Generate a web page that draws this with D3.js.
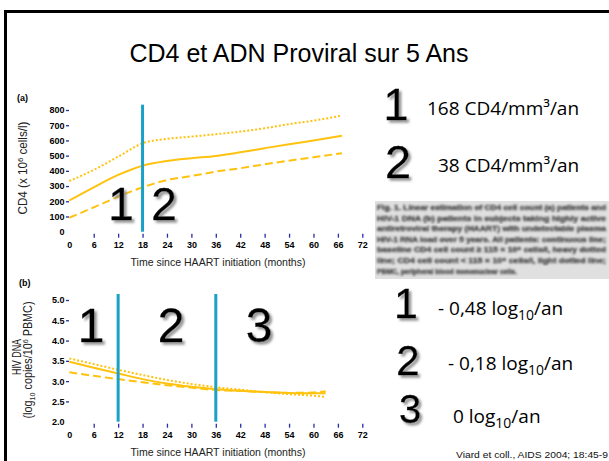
<!DOCTYPE html>
<html>
<head>
<meta charset="utf-8">
<script src="https://cdn.jsdelivr.net/npm/d3@7"></script>
<style>
  body { margin: 0; background: #fff; }
  svg { display: block; }
</style>
</head>
<body>
<div id="vis"></div>
<script>
// page size
const WIDTH = 609;
const HEIGHT = 461;

// data: panel (a) CD4 count
const monthsA = [0, 6, 12, 18, 24, 30, 36, 42, 48, 54, 60, 67];
const cd4All  = [205, 292, 373, 434, 465, 483, 498, 522, 549, 575, 599, 630];
const cd4High = [333, 406, 493, 581, 610, 625, 641, 658, 680, 707, 730, 763];
const cd4Low  = [92, 160, 230, 292, 340, 366, 395, 417, 443, 467, 489, 516];

// data: panel (b) HIV DNA
const monthsB = [0, 6, 12, 18, 24, 30, 36, 42, 48, 54, 60, 63];
const dnaAll  = [3.48, 3.33, 3.19, 3.05, 2.94, 2.86, 2.80, 2.76, 2.73, 2.71, 2.70, 2.70];
const dnaHigh = [3.56, 3.42, 3.28, 3.15, 3.03, 2.93, 2.85, 2.79, 2.73, 2.68, 2.64, 2.61];
const dnaLow  = [3.22, 3.13, 3.05, 2.97, 2.90, 2.84, 2.78, 2.76, 2.73, 2.71, 2.72, 2.75];

// ticks and phase cuts
const xTicks = d3.range(0, 73, 6);
const yTicksA = d3.range(0, 801, 100);
const yTicksB = [2.0, 2.5, 3.0, 3.5, 4.0, 4.5, 5.0];
const cutsA = [18];
const cutsB = [12, 36];
const phasesA = ["1", "2"];
const phasesB = ["1", "2", "3"];

const slopes = [
  {n: "1", pre: "168 CD4/mm³/an"},
  {n: "2", pre: "38 CD4/mm³/an"}
];
const slopesB = [
  {n: "1", pre: "- 0,48 log", post: "/an"},
  {n: "2", pre: "- 0,18 log", post: "/an"},
  {n: "3", pre: "0 log", post: "/an"}
];

const caption = [
  "Fig. 1. Linear estimation of CD4 cell count (a) patients and",
  "HIV-1 DNA (b) patients in subjects taking highly active",
  "antiretroviral therapy (HAART) with undetectable plasma",
  "HIV-1 RNA load over 5 years. All patients: continuous line;",
  "baseline CD4 cell count \u2265 115 \u00d7 10\u2076 cells/l, heavy dotted",
  "line; CD4 cell count < 115 \u00d7 10\u2076 cells/l, light dotted line;",
  "PBMC, peripheral blood mononuclear cells."
];

const GOLD = "#ffc20e";
const CUT = "#1aa1c8";
const TICK = "#2b2ba8";
const FONT = "'Liberation Sans', Arial, sans-serif";

const svg = d3.select("#vis")
  .append("svg")
    .attr("width", WIDTH)
    .attr("height", HEIGHT)
    .style("font-family", FONT);

// slide frame
svg.append("path")
  .attr("d", "M5.5," + HEIGHT + " V11.5 H" + (WIDTH + 5))
  .attr("fill", "none")
  .attr("stroke", "#000")
  .attr("stroke-width", 3);

svg.append("text")
  .attr("x", 299)
  .attr("y", 62)
  .attr("text-anchor", "middle")
  .attr("font-size", 25)
  .text("CD4 et ADN Proviral sur 5 Ans");

const defs = svg.append("defs");
defs.append("filter").attr("id", "shadow")
    .attr("x", "-20%").attr("y", "-20%").attr("width", "150%").attr("height", "150%")
  .append("feDropShadow")
    .attr("dx", 2.5).attr("dy", 2.5)
    .attr("stdDeviation", 0.9)
    .attr("flood-color", "#888")
    .attr("flood-opacity", 0.9);
defs.append("filter").attr("id", "blurtext")
  .append("feGaussianBlur").attr("stdDeviation", 0.85);

// shared x scale
const x = d3.scaleLinear().domain([0, 72]).range([69.3, 362.3]);

function bigDigit(g, label, cx, baseline, size) {
  g.append("text")
    .attr("x", cx).attr("y", baseline)
    .attr("text-anchor", "middle")
    .attr("font-size", size)
    .attr("fill", "#000")
    .attr("stroke", "#000")
    .attr("stroke-width", 0.3)
    .attr("filter", "url(#shadow)")
    .text(label);
}

function drawPanel(opt) {
  const g = svg.append("g");
  const y = opt.y;
  const y0 = y.range()[0];

  // x axis (ticks only)
  const ax = g.append("g")
    .attr("transform", "translate(0," + (y0 + 2) + ")")
    .call(d3.axisBottom(x).tickValues(xTicks).tickSize(4).tickPadding(3.5));
  ax.select(".domain").remove();
  ax.selectAll("line").attr("stroke", TICK).attr("stroke-width", 1.3);
  ax.selectAll(".tick").filter((d) => d === 0).select("line").remove();
  ax.selectAll("text")
    .attr("font-family", FONT).attr("font-size", 9)
    .attr("font-weight", "bold").attr("fill", "#000");

  // y axis (ticks only)
  const ay = g.append("g")
    .attr("transform", "translate(69,0)")
    .call(d3.axisLeft(y).tickValues(opt.yTicks).tickFormat(opt.fmt).tickSize(3).tickPadding(1.5));
  ay.select(".domain").remove();
  ay.selectAll("line").attr("stroke", TICK).attr("stroke-width", 1.3);
  ay.selectAll(".tick").filter((d, i) => i === 0).select("line").remove();
  ay.selectAll("text")
    .attr("font-family", FONT).attr("font-size", 9)
    .attr("font-weight", "bold").attr("fill", "#000");

  // curves
  const line = d3.line()
    .x((d) => x(d[0]))
    .y((d) => y(d[1]))
    .curve(d3.curveMonotoneX);
  opt.series.forEach((s) => {
    g.append("path")
      .datum(opt.months.map((m, i) => [m, s.values[i]]))
      .attr("d", line)
      .attr("fill", "none")
      .attr("stroke", GOLD)
      .attr("stroke-width", 2)
      .attr("stroke-dasharray", s.dash);
  });

  // phase cuts
  g.selectAll(".cut")
    .data(opt.cuts)
    .enter()
    .append("line")
      .attr("x1", (d) => x(d)).attr("x2", (d) => x(d))
      .attr("y1", opt.cutTop).attr("y2", y0)
      .attr("stroke", CUT)
      .attr("stroke-width", 3);

  // phase numbers
  opt.phases.forEach((p, i) => bigDigit(g, p, opt.phaseX[i], opt.phaseY, opt.phaseSize));

  // panel tag
  g.append("text")
    .attr("x", opt.tagX).attr("y", opt.tagY)
    .attr("font-size", 9).attr("font-weight", "bold")
    .text(opt.tag);

  // x title
  g.append("text")
    .attr("x", 218).attr("y", y0 + 34)
    .attr("text-anchor", "middle")
    .attr("font-size", 11)
    .attr("fill", "#222")
    .attr("textLength", 175)
    .attr("lengthAdjust", "spacingAndGlyphs")
    .text("Time since HAART initiation (months)");

  return g;
}

// panel (a)
const yA = d3.scaleLinear().domain([0, 800]).range([231.7, 110]);
const gA = drawPanel({
  y: yA,
  yTicks: yTicksA,
  fmt: d3.format("d"),
  months: monthsA,
  series: [
    {values: cd4High, dash: "2,2"},
    {values: cd4All, dash: null},
    {values: cd4Low, dash: "8,4"}
  ],
  cuts: cutsA,
  cutTop: yA(835),
  phases: phasesA,
  phaseX: [121, 164],
  phaseY: 220,
  phaseSize: 46,
  tag: "(a)",
  tagX: 17, tagY: 101
});

gA.append("text")
  .attr("transform", "translate(27,168) rotate(-90)")
  .attr("text-anchor", "middle")
  .attr("font-size", 12)
  .attr("fill", "#222")
  .attr("textLength", 93)
  .attr("lengthAdjust", "spacingAndGlyphs")
  .call((t) => {
    t.append("tspan").text("CD4 (x 10");
    t.append("tspan").attr("font-size", 8).attr("dy", -4).text("6");
    t.append("tspan").attr("dy", 4).text(" cells/l)");
  });

// panel (b)
const yB = d3.scaleLinear().domain([2, 5]).range([421.7, 300]);
const gB = drawPanel({
  y: yB,
  yTicks: yTicksB,
  fmt: d3.format(".1f"),
  months: monthsB,
  series: [
    {values: dnaHigh, dash: "2,2"},
    {values: dnaAll, dash: null},
    {values: dnaLow, dash: "8,4"}
  ],
  cuts: cutsB,
  cutTop: 294,
  phases: phasesB,
  phaseX: [91, 171, 259],
  phaseY: 342,
  phaseSize: 48,
  tag: "(b)",
  tagX: 19, tagY: 286
});

gB.append("text")
  .attr("transform", "translate(21,357) rotate(-90)")
  .attr("text-anchor", "middle")
  .attr("font-size", 12)
  .attr("fill", "#222")
  .attr("textLength", 36)
  .attr("lengthAdjust", "spacingAndGlyphs")
  .text("HIV DNA");

gB.append("text")
  .attr("transform", "translate(32,360) rotate(-90)")
  .attr("text-anchor", "middle")
  .attr("font-size", 12)
  .attr("fill", "#222")
  .attr("textLength", 117)
  .attr("lengthAdjust", "spacingAndGlyphs")
  .call((t) => {
    t.append("tspan").text("(log");
    t.append("tspan").attr("font-size", 8).attr("dy", 3).text("10");
    t.append("tspan").attr("dy", -3).text(" copies/10");
    t.append("tspan").attr("font-size", 8).attr("dy", -4).text("6");
    t.append("tspan").attr("dy", 4).text(" PBMC)");
  });

// right side: slopes for CD4
const RFONT = "'Open Sans', 'Noto Sans', sans-serif";
const rightA = [
  {cx: 396, by: 120, tx: 427, ty: 115, size: 45},
  {cx: 398, by: 178, tx: 438, ty: 172, size: 47}
];
slopes.forEach((s, i) => {
  const p = rightA[i];
  bigDigit(svg, s.n, p.cx, p.by, p.size);
  svg.append("text")
    .attr("x", p.tx).attr("y", p.ty)
    .attr("font-family", RFONT)
    .attr("font-size", 19)
    .text(s.pre);
});

// right side: slopes for DNA
const rightB = [
  {cx: 406, by: 318, tx: 438, ty: 315, size: 43},
  {cx: 408, by: 375, tx: 448, ty: 370, size: 42},
  {cx: 410, by: 423, tx: 453, ty: 423, size: 40}
];
slopesB.forEach((s, i) => {
  const p = rightB[i];
  bigDigit(svg, s.n, p.cx, p.by, p.size);
  const t = svg.append("text")
    .attr("x", p.tx).attr("y", p.ty)
    .attr("font-family", RFONT)
    .attr("font-size", 19);
  t.append("tspan").text(s.pre);
  t.append("tspan").attr("font-size", 14).attr("dy", 5).text("10");
  t.append("tspan").attr("dy", -5).text(s.post);
});

// caption excerpt (scanned figure legend)
const cap = svg.append("g");
cap.append("rect")
  .attr("x", 375).attr("y", 201)
  .attr("width", 234).attr("height", 78)
  .attr("fill", "#e0e0e0");
cap.selectAll("text")
  .data(caption)
  .enter()
  .append("text")
    .attr("x", 377)
    .attr("y", (d, i) => 210 + i * 10.6)
    .attr("font-size", 8)
    .attr("font-weight", "bold")
    .attr("fill", "#333")
    .attr("stroke", "#555")
    .attr("stroke-width", 0.4)
    .attr("filter", "url(#blurtext)")
    .attr("textLength", (d, i) => i < caption.length - 1 ? 229 : 140)
    .attr("lengthAdjust", "spacingAndGlyphs")
    .text((d) => d);

// reference
svg.append("text")
  .attr("x", 456).attr("y", 458)
  .attr("font-size", 9.5)
  .attr("fill", "#111")
  .attr("textLength", 152)
  .attr("lengthAdjust", "spacingAndGlyphs")
  .text("Viard et coll., AIDS 2004; 18:45-9");
</script>
</body>
</html>
